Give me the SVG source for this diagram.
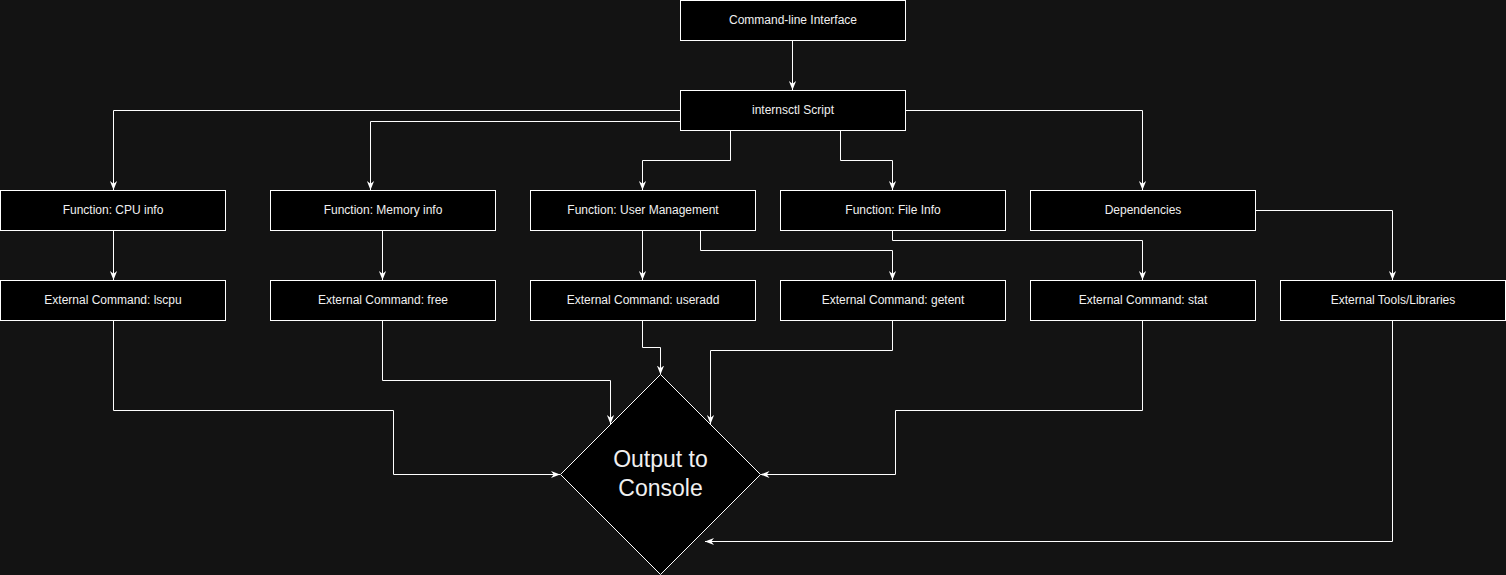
<svg xmlns="http://www.w3.org/2000/svg" width="1506" height="575" viewBox="0 0 1506 575">
<style>
.bg{fill:#131313}
.box{fill:#000;stroke:#fff;stroke-width:1}
.lbl{font-family:"Liberation Sans",Arial,sans-serif;font-size:12px;fill:#f0f0f0;text-anchor:middle}
.big{font-family:"Liberation Sans",Arial,sans-serif;font-size:23px;fill:#f0f0f0;text-anchor:middle}
.edge{fill:none;stroke:#fff;stroke-width:1;marker-end:url(#arr)}
</style>
<defs>
<marker id="arr" viewBox="0 0 10 10" refX="10" refY="5" markerWidth="9" markerHeight="9" markerUnits="userSpaceOnUse" orient="auto">
<path d="M0,1 L10,5 L0,9 L3,5 Z" fill="#fff"/>
</marker>
</defs>
<rect class="bg" x="0" y="0" width="1506" height="575"/>
<g id="connectors">
<path class="edge" d="M792.5,40.5 V90"/>
<path class="edge" d="M680,110.5 H113.5 V190"/>
<path class="edge" d="M680,121.5 H370.5 V190"/>
<path class="edge" d="M730.5,130.5 V160.5 H642.5 V190"/>
<path class="edge" d="M840.5,130.5 V160.5 H892.5 V190"/>
<path class="edge" d="M905,110.5 H1142.5 V190"/>
<path class="edge" d="M113.5,230.5 V280"/>
<path class="edge" d="M382.5,230.5 V280"/>
<path class="edge" d="M642.5,230.5 V280"/>
<path class="edge" d="M700.5,230.5 V250.5 H892.5 V280"/>
<path class="edge" d="M892.5,230.5 V240.5 H1142.5 V280"/>
<path class="edge" d="M1255,210.5 H1392.5 V280"/>
<path class="edge" d="M113.5,320.5 V410.5 H393.5 V474.5 H560"/>
<path class="edge" d="M382.5,320.5 V380.5 H610.5 V424"/>
<path class="edge" d="M642.5,320.5 V347.5 H660.5 V374.5"/>
<path class="edge" d="M892.5,320.5 V350.5 H710.5 V424"/>
<path class="edge" d="M1142.5,320.5 V410.5 H895.5 V474.5 H760.5"/>
<path class="edge" d="M1392.5,320.5 V541.5 H705"/>
</g>
<g id="cli"><rect class="box" x="680.5" y="0.5" width="225" height="40"/><text class="lbl" x="793" y="24">Command-line Interface</text></g>
<g id="script"><rect class="box" x="680.5" y="90.5" width="225" height="40"/><text class="lbl" x="793" y="114">internsctl Script</text></g>
<g id="cpu"><rect class="box" x="0.5" y="190.5" width="225" height="40"/><text class="lbl" x="113" y="214">Function: CPU info</text></g>
<g id="mem"><rect class="box" x="270.5" y="190.5" width="225" height="40"/><text class="lbl" x="383" y="214">Function: Memory info</text></g>
<g id="user"><rect class="box" x="530.5" y="190.5" width="225" height="40"/><text class="lbl" x="643" y="214">Function: User Management</text></g>
<g id="file"><rect class="box" x="780.5" y="190.5" width="225" height="40"/><text class="lbl" x="893" y="214">Function: File Info</text></g>
<g id="deps"><rect class="box" x="1030.5" y="190.5" width="225" height="40"/><text class="lbl" x="1143" y="214">Dependencies</text></g>
<g id="lscpu"><rect class="box" x="0.5" y="280.5" width="225" height="40"/><text class="lbl" x="113" y="304">External Command: lscpu</text></g>
<g id="free"><rect class="box" x="270.5" y="280.5" width="225" height="40"/><text class="lbl" x="383" y="304">External Command: free</text></g>
<g id="useradd"><rect class="box" x="530.5" y="280.5" width="225" height="40"/><text class="lbl" x="643" y="304">External Command: useradd</text></g>
<g id="getent"><rect class="box" x="780.5" y="280.5" width="225" height="40"/><text class="lbl" x="893" y="304">External Command: getent</text></g>
<g id="stat"><rect class="box" x="1030.5" y="280.5" width="225" height="40"/><text class="lbl" x="1143" y="304">External Command: stat</text></g>
<g id="tools"><rect class="box" x="1280.5" y="280.5" width="225" height="40"/><text class="lbl" x="1393" y="304">External Tools/Libraries</text></g>
<g id="output"><path class="box" d="M660.5,374.5 L760.5,474.5 L660.5,574.5 L560.5,474.5 Z"/><text class="big" x="660.5" y="467">Output to</text><text class="big" x="660.5" y="496">Console</text></g>
</svg>
